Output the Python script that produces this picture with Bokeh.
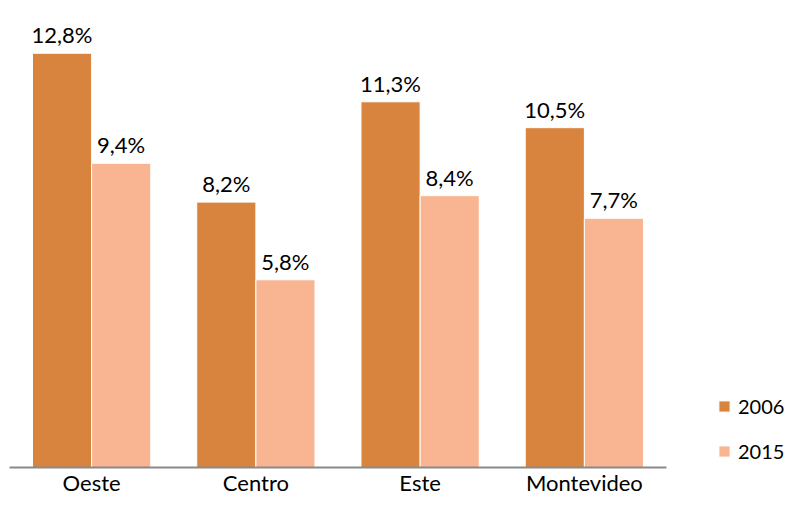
import numpy as np
from bokeh.plotting import figure
from bokeh.models import ColumnDataSource, Range1d, Legend, LegendItem, LabelSet
from bokeh.transform import dodge
from bokeh.core.properties import value
from bokeh.embed import file_html
from bokeh.resources import INLINE

categories = ["Oeste", "Centro", "Este", "Montevideo"]
years = ["2006", "2015"]
v2006 = [12.8, 8.2, 11.3, 10.5]
v2015 = [9.4, 5.8, 8.4, 7.7]

colors = {"2006": "#D9843E", "2015": "#F9B591"}
FONT = "Lato"


def fmt(v):
    return f"{v:.1f}".replace(".", ",") + "%"


n = len(categories)
idx = np.arange(n)
src = ColumnDataSource(dict(
    idx=idx,
    cat=categories,
    zero=[0] * n,
    v2006=v2006,
    v2015=v2015,
    l2006=[fmt(v) for v in v2006],
    l2015=[fmt(v) for v in v2015],
))

p = figure(
    width=785, height=498,
    x_range=Range1d(-0.5548, 4.2245),
    y_range=Range1d(-0.958, 14.43),
    output_backend="svg", toolbar_location=None,
    min_border_left=0, min_border_right=0, min_border_top=0, min_border_bottom=0,
)

r1 = p.vbar(x=dodge("idx", -0.18), top="v2006", width=0.36,
            source=src, fill_color=colors["2006"], line_color="white", line_width=1)
r2 = p.vbar(x=dodge("idx", 0.18), top="v2015", width=0.36,
            source=src, fill_color=colors["2015"], line_color="white", line_width=1)

for off, col in ((-0.18, "2006"), (0.18, "2015")):
    p.add_layout(LabelSet(x=dodge("idx", off), y="v" + col, text="l" + col,
                          source=src, text_align="center", text_baseline="alphabetic",
                          y_offset=10, text_font=value(FONT), text_font_size="22px",
                          text_color="#000000"))

# category labels below the baseline
p.add_layout(LabelSet(x="idx", y="zero", text="cat", source=src, text_align="center",
                      text_baseline="alphabetic", y_offset=-24, text_font=value(FONT),
                      text_font_size="22px", text_color="#000000"))

# baseline of the category axis, spanning the category slots
p.segment(x0=[-0.5], y0=[0], x1=[n - 0.5], y1=[0], line_color="#898989", line_width=2)

legend = Legend(items=[LegendItem(label="2006", renderers=[r1]),
                       LegendItem(label="2015", renderers=[r2])],
                location=(717, 35), orientation="vertical")
legend.glyph_width = 14
legend.glyph_height = 14
legend.label_height = 24
legend.spacing = 21
legend.label_standoff = 7
legend.padding = 0
legend.margin = 0
legend.border_line_color = None
legend.background_fill_alpha = 0
legend.label_text_font = FONT
legend.label_text_font_size = "20px"
legend.label_text_color = "#000000"
p.add_layout(legend)

p.xaxis.visible = False
p.yaxis.visible = False
p.xgrid.visible = False
p.ygrid.visible = False
p.outline_line_color = None

open("out.html", "w").write(file_html(p, INLINE))
